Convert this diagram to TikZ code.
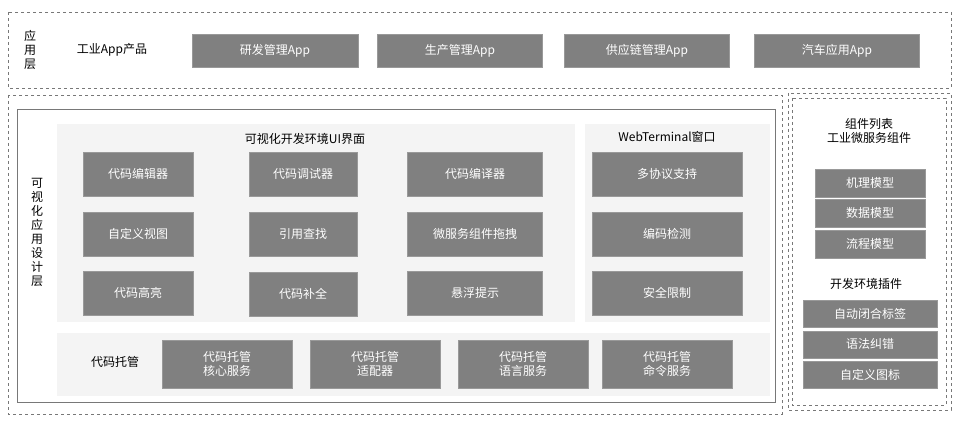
\documentclass[tikz,border=0pt]{standalone}
\usepackage{fontspec}
\setmainfont{Noto Sans CJK SC}
\usetikzlibrary{positioning}
\definecolor{boxgray}{RGB}{128,128,128}
\definecolor{panelgray}{RGB}{244,244,244}
\definecolor{linegray}{RGB}{120,120,120}
\tikzset{
  module/.style={rectangle, fill=boxgray, draw=boxgray!80, text=white, inner sep=0pt, font=\fontsize{12}{14}\selectfont, align=center},
  panel/.style={rectangle, fill=panelgray, draw=none},
  frame/.style={draw=linegray, dashed, thick},
  label/.style={font=\fontsize{12}{14}\selectfont, align=center}
}
\begin{document}
\begin{tikzpicture}[x=1pt, y=-1pt]
        \useasboundingbox (0,0) rectangle (959,422);

        % application layer
        \draw [frame] (8,12) rectangle (951,88);
        \node (applayer) [label] at (30,50) {应\\用\\层};
        \node (apptitle) [label] at (112,50) {工业App产品};
        \node (app1) [module, minimum width=166pt, minimum height=33pt] at (275,51) {研发管理App};
        \node (app2) [module, minimum width=165pt, minimum height=33pt] at (460,51) {生产管理App};
        \node (app3) [module, minimum width=165pt, minimum height=33pt] at (647,51) {供应链管理App};
        \node (app4) [module, minimum width=165pt, minimum height=33pt] at (837,51) {汽车应用App};

        % design layer
        \draw [frame] (8,95) rectangle (782,414);
        \draw [draw=linegray, thick] (17,109) rectangle (775,402);
        \fill [panelgray] (57,124) rectangle (575,322);
        \fill [panelgray] (585,124) rectangle (770,322);
        \fill [panelgray] (57,333) rectangle (770,396);
        \node (designlayer) [label] at (37,232) {可\\视\\化\\应\\用\\设\\计\\层};
        \node (uititle) [label] at (305,139) {可视化开发环境UI界面};
        \node (webtitle) [label] at (667,137) {WebTerminal窗口};

        \foreach \name/\x/\y/\w/\txt in {
            editor/138/174/110/代码编辑器, debugger/303/174/108/代码调试器, compiler/475/174/135/代码编译器,
            view/138/234/110/自定义视图, refs/303/234/108/引用查找, drag/475/234/135/微服务组件拖拽,
            highlight/138/293/110/代码高亮, complete/303/294/108/代码补全, hover/475/293/135/悬浮提示,
            proto/667/174/150/多协议支持, encode/667/234/150/编码检测, secure/667/293/150/安全限制}
          \node (\name) [module, minimum width=\w pt, minimum height=44pt] at (\x,\y) {\txt};

        \node (hosttitle) [label] at (115,362) {代码托管};
        \foreach \name/\x/\txt in {core/227/核心服务, adapter/375/适配器, lang/523/语言服务, cmd/667/命令服务}
          \node (\name) [module, minimum width=130pt, minimum height=48pt] at (\x,364) {代码托管\\\txt};

        % component list
        \draw [frame] (788,93) rectangle (951,410);
        \draw [frame, thin] (792,98) rectangle (946,405);
        \node (comptitle) [label] at (869,131) {组件列表\\工业微服务组件};
        \node (mech) [module, minimum width=110pt, minimum height=28pt] at (870,183) {机理模型};
        \node (data) [module, minimum width=110pt, minimum height=28pt, below=2pt of mech] {数据模型};
        \node (flow) [module, minimum width=110pt, minimum height=28pt, below=2pt of data] {流程模型};
        \node (plugtitle) [label] at (866,284) {开发环境插件};
        \node (autotag) [module, minimum width=134pt, minimum height=27pt] at (870,314) {自动闭合标签};
        \node (syntax) [module, minimum width=134pt, minimum height=27pt, below=3pt of autotag] {语法纠错};
        \node (icon) [module, minimum width=134pt, minimum height=27pt, below=3pt of syntax] {自定义图标};
    \end{tikzpicture}
\end{document}
